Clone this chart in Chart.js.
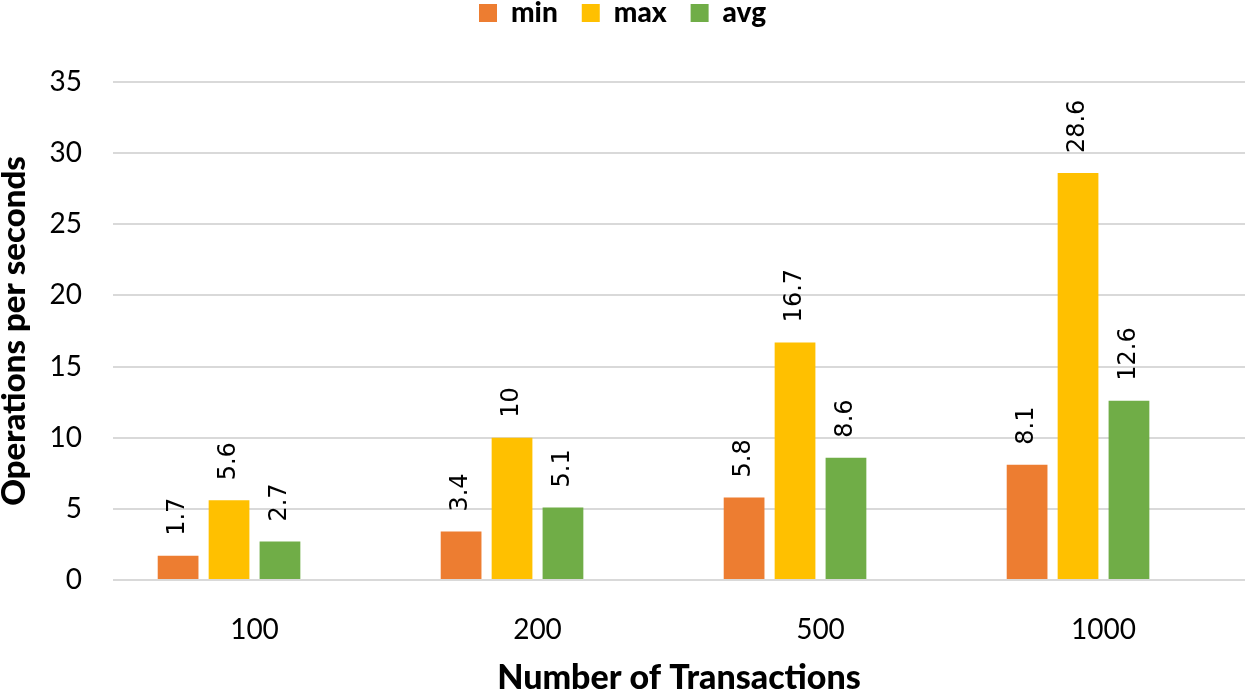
<!DOCTYPE html>
<html>
<head>
<meta charset="utf-8">
<script src="https://cdn.jsdelivr.net/npm/chart.js"></script>
<style>
  html, body { margin: 0; padding: 0; background: #fff; }
  #wrap { width: 1250px; height: 693px; }
</style>
</head>
<body>
<div id="wrap"><canvas id="chart" width="1250" height="693"></canvas></div>
<script>
// values
const categories = ["100", "200", "500", "1000"];
const minValues = [1.7, 3.4, 5.8, 8.1];
const maxValues = [5.6, 10, 16.7, 28.6];
const avgValues = [2.7, 5.1, 8.6, 12.6];
// an empty 4th series keeps the groups shifted left, as in the original
const emptyValues = [null, null, null, null];
const yTicks = [0, 5, 10, 15, 20, 25, 30, 35];

const labelFont = "Lato, 'Open Sans', sans-serif";

// rotated value labels above each bar
const barLabels = {
    id: "barLabels",
    afterDatasetsDraw(chart) {
        const ctx = chart.ctx;
        ctx.save();
        ctx.font = "24px 'DejaVu Sans', sans-serif";
        ctx.fillStyle = "#000";
        ctx.textAlign = "left";
        ctx.textBaseline = "middle";
        chart.data.datasets.forEach((ds, i) => {
            const meta = chart.getDatasetMeta(i);
            meta.data.forEach((bar, j) => {
                const v = ds.data[j];
                if (v == null) return;
                ctx.save();
                ctx.translate(bar.x, bar.y - 20);
                ctx.rotate(-Math.PI / 2);
                ctx.fillText(String(v), 0, 0);
                ctx.restore();
            });
        });
        ctx.restore();
    }
};

// fixed legend height so the plot starts where it does in the picture
const legendHeight = {
    id: "legendHeight",
    beforeInit(chart) {
        const fit = chart.legend.fit;
        chart.legend.fit = function () {
            fit.bind(chart.legend)();
            this.height = 107;
        };
    }
};

new Chart(document.getElementById("chart"), {
    type: "bar",
    data: {
        labels: categories,
        datasets: [
            { label: "min", data: minValues, backgroundColor: "#ED7D31" },
            { label: "max", data: maxValues, backgroundColor: "#FFC000" },
            { label: "avg", data: avgValues, backgroundColor: "#70AD47" },
            { label: "", data: emptyValues, backgroundColor: "transparent" }
        ]
    },
    options: {
        responsive: false,
        animation: false,
        events: [],
        barPercentage: 0.8,
        categoryPercentage: 0.72,
        layout: { padding: { top: -25, left: 0, right: 5, bottom: 0 } },
        plugins: {
            tooltip: { enabled: false },
            legend: {
                position: "top",
                labels: {
                    font: { family: labelFont, size: 28, weight: "900" },
                    color: "#000",
                    boxWidth: 18,
                    boxHeight: 18,
                    padding: 24,
                    filter: item => item.datasetIndex < 3
                }
            }
        },
        scales: {
            x: {
                grid: { display: false },
                border: { display: false },
                ticks: {
                    font: { family: labelFont, size: 28 },
                    color: "#000",
                    padding: 25
                },
                title: {
                    display: true,
                    text: "Number of Transactions",
                    font: { family: labelFont, size: 34, weight: "900" },
                    color: "#000",
                    padding: { top: 0, bottom: -5 }
                },
                afterFit(scale) { scale.height = 113; }
            },
            y: {
                min: 0,
                max: 35,
                afterBuildTicks(scale) {
                    scale.ticks = yTicks.map(v => ({ value: v }));
                },
                grid: { color: "#d9d9d9", lineWidth: 2, drawTicks: false },
                border: { display: false },
                ticks: {
                    font: { family: labelFont, size: 28 },
                    color: "#000",
                    padding: 31
                },
                title: {
                    display: true,
                    text: "Operations per seconds",
                    font: { family: labelFont, size: 33, weight: "900" },
                    color: "#000",
                    padding: { top: -5, bottom: 0 }
                },
                afterFit(scale) { scale.width = 113; }
            }
        }
    },
    plugins: [barLabels, legendHeight]
});
</script>
</body>
</html>
